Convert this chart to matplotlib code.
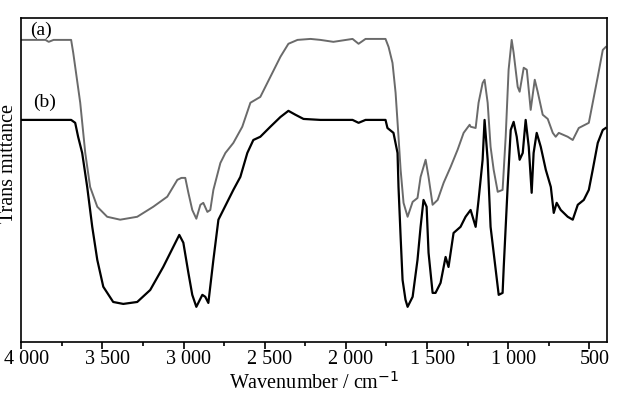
import numpy as np
import matplotlib
matplotlib.use("Agg")
import matplotlib.pyplot as plt
import matplotlib.transforms as mtransforms
from matplotlib.ticker import MultipleLocator

# curve (a), gray
wn_a = [4000, 3850, 3830, 3800, 3692, 3679, 3636, 3605, 3575, 3531, 3470, 3390, 3285,
        3186, 3100, 3038, 3013, 2989, 2970, 2946, 2921, 2896, 2878, 2853, 2835, 2816,
        2773, 2742, 2693, 2638, 2588, 2527, 2465, 2403, 2354, 2298, 2218, 2157, 2077,
        1959, 1922, 1879, 1756, 1737, 1713, 1694, 1676, 1663, 1645, 1620, 1589, 1559,
        1540, 1509, 1491, 1466, 1435, 1398, 1355, 1312, 1275, 1238, 1232, 1201, 1183,
        1158, 1146, 1127, 1109, 1090, 1065, 1035, 1016, 998, 979, 967, 942, 930, 905,
        886, 862, 837, 819, 788, 757, 726, 708, 689, 634, 603, 566, 504, 480, 449, 418, 400]
tr_a = [93.2, 93.2, 92.6, 93.2, 93.2, 89.2, 73.8, 58.3, 47.8, 41.7, 38.6, 37.7, 38.6,
        41.7, 44.8, 50.0, 50.6, 50.6, 46.0, 40.7, 38.0, 42.3, 42.9, 40.1, 40.7, 46.9,
        55.2, 58.3, 61.4, 66.4, 73.8, 75.6, 81.8, 88.0, 92.0, 93.2, 93.5, 93.2, 92.6,
        93.5, 92.0, 93.5, 93.5, 91.0, 86.1, 76.9, 63.3, 53.1, 42.9, 38.6, 43.2, 44.4,
        50.9, 56.2, 50.9, 42.3, 43.8, 49.1, 54.0, 59.3, 64.5, 67.0, 66.4, 66.0, 73.8,
        79.9, 80.9, 73.8, 60.2, 53.1, 46.3, 46.9, 63.3, 84.0, 93.2, 89.2, 78.7, 77.2, 84.6,
        84.0, 71.6, 80.9, 77.2, 70.1, 68.8, 64.5, 63.3, 64.5, 63.3, 62.3, 66.0, 67.6,
        73.8, 81.8, 90.1, 91.0]

# curve (b), black
wn_b = [4000, 3692, 3667, 3649, 3624, 3593, 3562, 3531, 3494, 3433, 3371, 3285, 3205,
        3125, 3063, 3026, 3001, 2970, 2946, 2921, 2884, 2866, 2847, 2816, 2785, 2755,
        2693, 2650, 2607, 2570, 2527, 2465, 2403, 2354, 2311, 2261, 2157, 1959, 1922,
        1879, 1756, 1744, 1707, 1682, 1676, 1663, 1651, 1633, 1620, 1589, 1559, 1540,
        1522, 1503, 1491, 1466, 1448, 1417, 1386, 1368, 1337, 1294, 1263, 1232, 1201,
        1183, 1158, 1146, 1127, 1109, 1090, 1065, 1059, 1035, 1028, 1004, 985, 967, 948,
        930, 911, 893, 874, 856, 844, 825, 800, 769, 738, 720, 702, 677, 634, 603, 572,
        535, 504, 480, 449, 418, 400]
tr_b = [68.5, 68.5, 67.6, 63.3, 58.3, 47.8, 35.5, 25.3, 17.0, 12.3, 11.7, 12.3, 16.0,
        23.1, 29.3, 33.0, 30.6, 21.3, 14.5, 10.8, 14.5, 13.9, 12.0, 25.3, 37.7, 40.7,
        46.9, 50.9, 58.3, 62.3, 63.3, 66.4, 69.4, 71.3, 70.1, 68.8, 68.5, 68.5, 67.6,
        68.5, 68.5, 66.0, 64.5, 58.3, 47.8, 32.4, 19.1, 13.0, 10.8, 13.9, 25.3, 35.5,
        43.8, 41.7, 27.5, 15.1, 15.1, 18.2, 26.2, 23.1, 33.6, 35.5, 38.6, 40.7, 35.5,
        43.8, 56.2, 68.5, 56.2, 35.5, 27.5, 17.0, 14.5, 15.1, 23.1, 47.8, 65.4, 67.9, 63.3,
        56.2, 58.3, 68.5, 60.2, 46.0, 58.3, 64.5, 60.2, 53.1, 47.8, 39.8, 42.9, 40.7, 38.6,
        37.7, 42.3, 43.8, 46.9, 53.1, 61.4, 65.4, 66.0]

xticks = [4000, 3500, 3000, 2500, 2000, 1500, 1000, 500]
xticklabels = ["4 000", "3 500", "3 000", "2 500", "2 000", "1 500", "1 000", "500"]

plt.rcParams['font.family'] = ['Liberation Serif', 'DejaVu Serif']

fig = plt.figure(figsize=(6.21, 3.97), dpi=100)
ax = fig.add_axes([0.034, 0.139, 0.944, 0.816])

ax.plot(wn_a, tr_a, color='#6a6a6a', lw=1.4)
ax.plot(wn_b, tr_b, color='black', lw=1.6)

ax.set_xlim(4000, 390)
ax.set_ylim(0, 100)
ax.set_xticks(xticks)
ax.set_xticklabels(xticklabels, fontsize=14.5)
ax.xaxis.set_minor_locator(MultipleLocator(250))
ax.tick_params(axis='x', which='major', direction='out', length=5, width=1.2, pad=1)
ax.tick_params(axis='x', which='minor', direction='out', length=3, width=1.2)
ax.set_yticks([])
for s in ax.spines.values():
    s.set_linewidth(1.2)

# tick labels sit a little to the right of their ticks in the original
shift = mtransforms.ScaledTranslation(5 / 100, 0, fig.dpi_scale_trans)
for lab in ax.get_xticklabels():
    lab.set_transform(lab.get_transform() + shift)

ax.set_xlabel("Wavenumber / cm$^{-1}$", fontsize=14.5, labelpad=2)
ax.set_ylabel("Trans mittance", fontsize=14.5)
ax.yaxis.set_label_coords(-0.006, 0.55)

ax.text(3880, 96.3, "(a)", fontsize=14, ha='center', va='center')
ax.text(3855, 74, "(b)", fontsize=14, ha='center', va='center')

fig.savefig("out.png", dpi=100)
